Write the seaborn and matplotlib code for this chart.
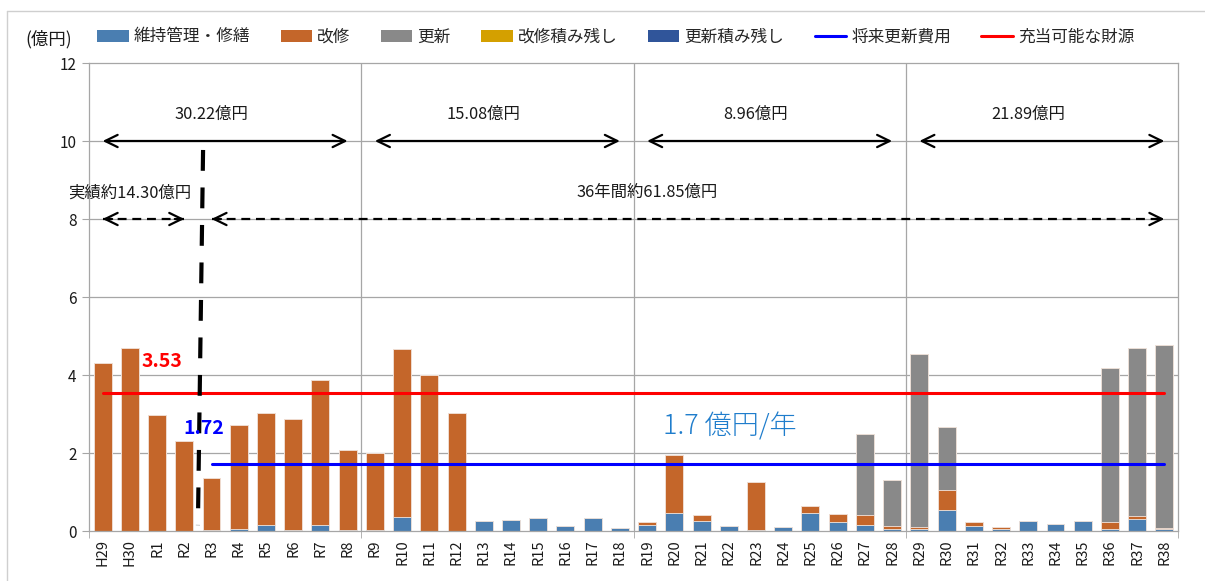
import numpy as np
import pandas as pd
import matplotlib
matplotlib.use("Agg")
import matplotlib.pyplot as plt
from matplotlib.lines import Line2D
from matplotlib.patches import Patch
import seaborn as sns

# ---- data (億円) ----
years = ["H29", "H30", "R1", "R2", "R3", "R4", "R5", "R6", "R7", "R8",
         "R9", "R10", "R11", "R12", "R13", "R14", "R15", "R16", "R17", "R18",
         "R19", "R20", "R21", "R22", "R23", "R24", "R25", "R26", "R27", "R28",
         "R29", "R30", "R31", "R32", "R33", "R34", "R35", "R36", "R37", "R38"]

maintenance = [0.00, 0.00, 0.00, 0.00, 0.02, 0.05, 0.15, 0.03, 0.15, 0.02,
               0.03, 0.35, 0.01, 0.01, 0.26, 0.28, 0.33, 0.13, 0.33, 0.08,
               0.15, 0.45, 0.25, 0.12, 0.02, 0.09, 0.45, 0.23, 0.16, 0.04,
               0.04, 0.53, 0.12, 0.06, 0.25, 0.19, 0.26, 0.04, 0.30, 0.05]

renovation = [4.32, 4.68, 2.98, 2.32, 1.34, 2.68, 2.88, 2.83, 3.71, 2.06,
              1.97, 4.31, 3.98, 3.01, 0.00, 0.00, 0.00, 0.00, 0.00, 0.00,
              0.08, 1.50, 0.16, 0.00, 1.24, 0.00, 0.19, 0.21, 0.26, 0.08,
              0.05, 0.51, 0.10, 0.04, 0.00, 0.00, 0.00, 0.18, 0.08, 0.02]

renewal = [0.00, 0.00, 0.00, 0.00, 0.00, 0.00, 0.00, 0.00, 0.00, 0.00,
           0.00, 0.00, 0.00, 0.00, 0.00, 0.00, 0.00, 0.00, 0.00, 0.00,
           0.00, 0.00, 0.00, 0.00, 0.00, 0.00, 0.00, 0.00, 2.08, 1.20,
           4.46, 1.63, 0.00, 0.00, 0.00, 0.00, 0.00, 3.97, 4.30, 4.71]

renovation_backlog = [0.0] * 40
renewal_backlog = [0.0] * 40

future_renewal_cost = 1.72   # 将来更新費用 (R3〜R38 平均)
available_funds = 3.53       # 充当可能な財源

period_totals = ["30.22億円", "15.08億円", "8.96億円", "21.89億円"]
actual_label = "実績約14.30億円"
plan_label = "36年間約61.85億円"
rate_label = "1.7 億円/年"

series_names = ["維持管理・修繕", "改修", "更新", "改修積み残し", "更新積み残し"]
series_colors = ["#4a7eb1", "#c4662a", "#898989", "#d4a000", "#30559a"]

# ---- styling ----
sns.set_style("white")
plt.rcParams["font.family"] = ["Noto Sans CJK JP", "DejaVu Sans"]

df = pd.DataFrame({
    "year": years,
    series_names[0]: maintenance,
    series_names[1]: renovation,
    series_names[2]: renewal,
    series_names[3]: renovation_backlog,
    series_names[4]: renewal_backlog,
})
cum = df[series_names].cumsum(axis=1)
cum.insert(0, "year", df["year"])

fig = plt.figure(figsize=(12.05, 5.81), dpi=100)
ax = fig.add_axes([89 / 1205, 1 - 531 / 581, (1178 - 89) / 1205, (531 - 63) / 581])

grid_c = "#a6a6a6"
ax.set_axisbelow(True)
for yv in range(2, 12, 2):
    ax.axhline(yv, color=grid_c, lw=0.9, zorder=0)
for xv in (9.5, 19.5, 29.5):
    ax.axvline(xv, color=grid_c, lw=0.9, zorder=0)

# stacked bars: draw cumulative heights from the top layer down
for name, color in reversed(list(zip(series_names, series_colors))):
    sns.barplot(data=cum, x="year", y=name, color=color, saturation=1,
                width=0.66, edgecolor="#f3e6de", linewidth=0.6, ax=ax, zorder=2)

n = len(years)
# reference lines
ax.plot([0, n - 1], [available_funds] * 2, color="#ff0000", lw=2.2, zorder=4)
ax.plot([4, n - 1], [future_renewal_cost] * 2, color="#0000ff", lw=2.2, zorder=4)

ax.text(2.18, 4.34, f"{available_funds:.2f}", color="#ff0000", fontsize=14,
        fontweight="bold", ha="center", va="center", zorder=6)
ax.text(3.73, 2.62, f"{future_renewal_cost:.2f}", color="#0000ff", fontsize=14,
        fontweight="bold", ha="center", va="center", zorder=6)
ax.text(23.05, 2.67, rate_label, color="#1f7dcc", fontsize=19.5,
        fontweight="light", ha="center", va="center", zorder=6)

# boundary between actual and plan
ax.plot([3.69, 3.5], [9.77, 0.15], color="black", lw=3.0,
        linestyle=(0, (5, 4)), zorder=5)

# period arrows
arrow_kw = dict(arrowstyle="<->,head_length=0.45,head_width=0.22",
                color="black", lw=1.6, shrinkA=0, shrinkB=0, mutation_scale=20)
for (x0, x1), label, xc in zip([(0, 9), (10, 19), (20, 29), (30, 39)],
                               period_totals, [4, 14, 24, 34]):
    ax.annotate("", xy=(x1, 10), xytext=(x0, 10), arrowprops=arrow_kw, zorder=5)
    ax.text(xc, 10.67, label, fontsize=11.8, ha="center", va="center", color="#1a1a1a")

head_kw = dict(arrowstyle="->,head_length=0.45,head_width=0.22",
               color="black", lw=1.6, shrinkA=0, shrinkB=0, mutation_scale=20)
for x0, x1 in [(0, 3), (4, 39)]:
    ax.plot([x0, x1], [8, 8], color="black", lw=1.6, linestyle=(0, (4, 2.6)), zorder=5)
    ax.annotate("", xy=(x0, 8), xytext=(x0 + 0.35, 8), arrowprops=head_kw, zorder=5)
    ax.annotate("", xy=(x1, 8), xytext=(x1 - 0.35, 8), arrowprops=head_kw, zorder=5)
ax.text(0.99, 8.66, actual_label, fontsize=11.8, ha="center", va="center", color="#1a1a1a")
ax.text(20.0, 8.69, plan_label, fontsize=11.8, ha="center", va="center", color="#1a1a1a")

# axes
ax.set_xlim(-0.5, n - 0.5)
ax.set_ylim(0, 12)
ax.set_yticks(range(0, 13, 2))
ax.set_xlabel("")
ax.set_ylabel("")
ax.tick_params(axis="y", labelsize=11, length=5, color=grid_c, direction="out",
               left=True, pad=4, labelcolor="#1a1a1a")
ax.tick_params(axis="x", which="major", labelsize=10.5, length=0, rotation=90,
               pad=6, labelcolor="#1a1a1a")
ax.set_xticks([-0.5, 9.5, 19.5, 29.5, 39.5], minor=True)
ax.tick_params(axis="x", which="minor", length=5, color=grid_c, direction="out", bottom=True)
for s in ax.spines.values():
    s.set_color(grid_c)
    s.set_linewidth(0.9)

# legend
handles = [Patch(facecolor=c, edgecolor="none") for c in series_colors]
handles += [Line2D([], [], color="#0000ff", lw=2.2), Line2D([], [], color="#ff0000", lw=2.2)]
labels = series_names + ["将来更新費用", "充当可能な財源"]
fig.legend(handles, labels, loc="center left", bbox_to_anchor=(82 / 1205, 1 - 37 / 581),
           ncol=7, frameon=False, fontsize=12, handlelength=1.9, handleheight=0.7,
           handletextpad=0.3, columnspacing=1.82, borderpad=0.4)
fig.text(25 / 1205, 1 - 39 / 581, "(億円)", fontsize=12.5, ha="left", va="center",
         color="#1a1a1a")

# chart frame
frame_c = "#cfcfcf"
fig.add_artist(Line2D([7 / 1205, 7 / 1205], [0, 1 - 11 / 581], color=frame_c, lw=1.0))
fig.add_artist(Line2D([7 / 1205, 1], [1 - 11 / 581, 1 - 11 / 581], color=frame_c, lw=1.0))

fig.savefig("out.png", dpi=100, facecolor="white")
